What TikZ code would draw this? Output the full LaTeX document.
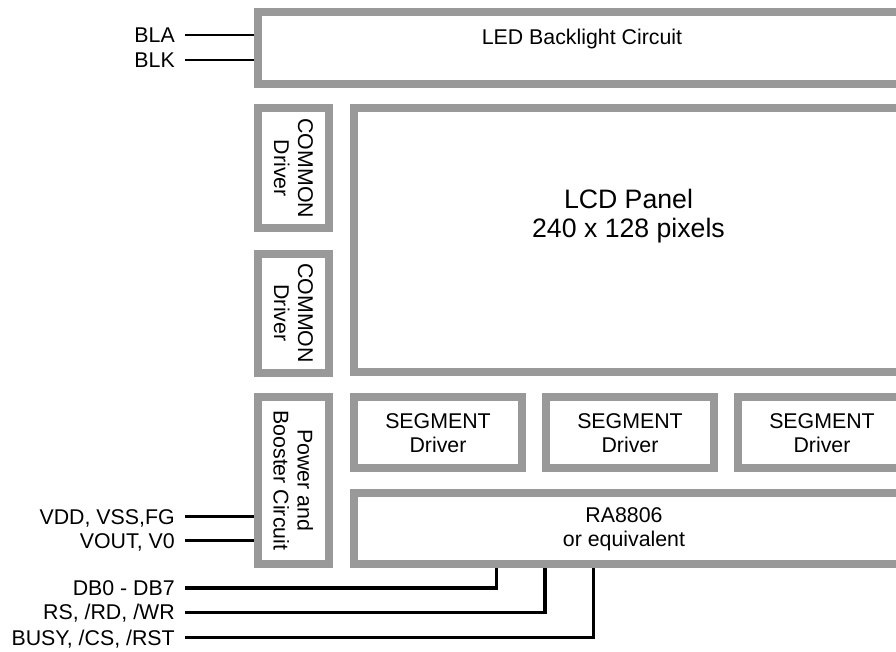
\documentclass[tikz,border=0pt]{standalone}
\usepackage{fontspec}
\setmainfont{Liberation Sans}
\usepackage{tikz}
\usetikzlibrary{positioning,fit,calc}
\definecolor{boxgray}{RGB}{153,153,153}

\begin{document}
\begin{tikzpicture}[x=0.75pt, y=-0.75pt,
    blk/.style = {draw=boxgray, line width=6pt, inner sep=0pt,
      fit={#1}}, % gray framed blocks
    txt/.style = {font=\fontsize{16}{18}\selectfont, align=center,
      inner sep=0pt},
    sig/.style = {txt, anchor=east, inner xsep=7.5pt,
      text height=11.5pt, text depth=0pt}, % pin labels
    wire/.style = {draw=black, line width=1.1pt},
    bus/.style = {draw=black, line width=2.4pt},
  ]
  \useasboundingbox (0,0) rectangle (896,651);
  \clip (0,0) rectangle (896,651);

  % blocks
  \node[blk={(257.5,12.3) (1000,84.2)}] (led) {};
  \node[blk={(354,108.3) (1000,372)}] (lcd) {};
  \node[blk={(257.5,108.3) (329.2,228.3)}] (com-1) {};
  \node[blk={(257.5,253.5) (329.2,372.5)}] (com-2) {};
  \node[blk={(257.5,396.7) (329.2,564)}] (pwr) {};
  \foreach \i in {0,1,2}
  \node[blk={(354+192*\i,396.7) (522+192*\i,467.5)}] (seg-\i) {};
  \node[blk={(354,492.5) (1000,564)}] (ra) {};

  % block texts
  \node[txt, anchor=base] (led-t) at (582,44) {LED Backlight Circuit};
  \node[txt, font=\fontsize{20}{21.3}\selectfont] (lcd-t) at (628.5,216)
  {LCD Panel\\240 x 128 pixels};
  \foreach \n in {com-1,com-2}
  \node[txt, rotate=-90] at (\n) {COMMON\\Driver};
  \node[txt, rotate=-90] (pwr-t) at (pwr) {Power and\\Booster Circuit};
  \foreach \i in {0,1,2}
  \node[txt] at ([yshift=-1pt]seg-\i) {SEGMENT\\Driver};
  \node[txt] (ra-t) at (624,529.5) {RA8806\\or equivalent};

  % pins
  \node[sig] (bla) at (185,35) {BLA};
  \node[sig] (blk) at (185,60) {BLK};
  \node[sig] (vdd) at (185,516.7) {VDD, VSS,FG};
  \node[sig] (vout) at (185,540.7) {VOUT, V0};
  \node[sig] (db) at (185,588) {DB0 - DB7};
  \node[sig] (rs) at (185,612.3) {RS, /RD, /WR};
  \node[sig] (busy) at (185,637.5) {BUSY, /CS, /RST};

  \coordinate (ra-1) at ($(ra.south west)+(146.7,0)$);
  \coordinate (ra-2) at ($(ra.south west)+(195,0)$);
  \coordinate (ra-3) at ($(ra.south west)+(243.3,0)$);

  \draw[wire] (bla) -- (bla -| led.west);
  \draw[wire] (blk) -- (blk -| led.west);
  \draw[bus] (vdd) -- (vdd -| pwr.west);
  \draw[bus] (vout) -- (vout -| pwr.west);
  \draw[bus] (db) -| (ra-1);
  \draw[bus] (rs) -| (ra-2);
  \draw[bus] (busy) -| (ra-3);
\end{tikzpicture}
\end{document}
